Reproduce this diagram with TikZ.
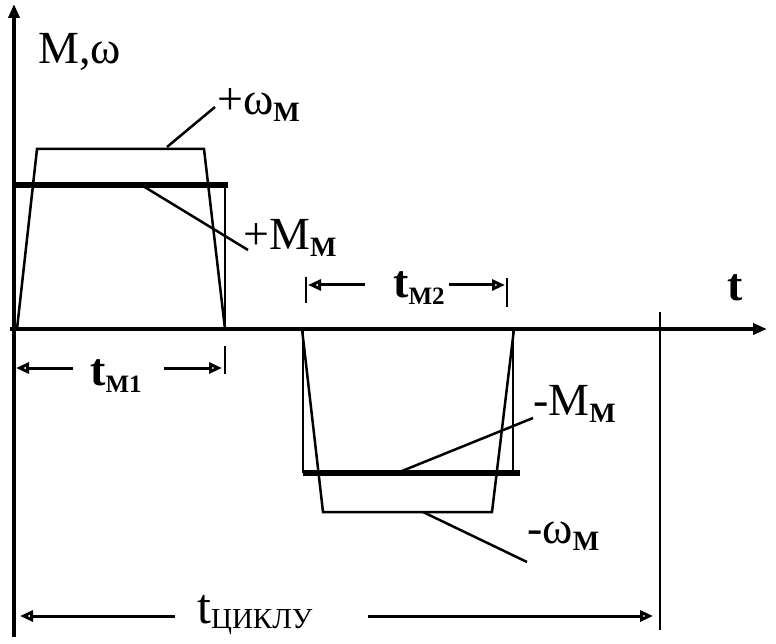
\documentclass[tikz,border=0pt]{standalone}
\usepackage{fontspec}
\setmainfont{Liberation Serif}
\usetikzlibrary{arrows.meta}
\tikzset{axis/.style={line width=3.5pt,-{Triangle[open,length=14pt,width=11pt]}},
 curve/.style={line width=2.5pt,line join=miter},
 moment/.style={line width=6pt},
 leader/.style={line width=2.5pt},
 dimarrow/.style={line width=3pt,-{Triangle[open,length=13pt,width=11pt]}},
 lbl/.style={anchor=base west,inner sep=0pt,font=\fontsize{46}{50}\selectfont},
 }
\newcommand{\subM}{\textbf{\fontsize{28}{30}\selectfont М}}

\begin{document}
\begin{tikzpicture}[x=1pt,y=-1pt]
        \useasboundingbox (0,0) rectangle (776,644);
        % axes
        \draw [axis] (14,637) -- (14,4);
        \draw [axis] (10,329) -- (767,329);
        \draw [line width=2.5pt] (660,312) -- (660,630);
        % labels
        \node [lbl] (yl) at (38,64) {M,ω};
        \node [lbl] (tl) at (727,300) {\textbf{t}};
        \node [lbl] (wp) at (217,115) {+ω\raisebox{-7pt}{\subM}};
        \node [lbl] (mp) at (243,250) {+M\raisebox{-7pt}{\subM}};
        \node [lbl] (mn) at (533,415) {-M\raisebox{-7pt}{\subM}};
        \node [lbl] (wn) at (527,543) {-ω\raisebox{-7pt}{\subM}};
        \node [lbl] (t1) at (90,385) {\textbf{t}\raisebox{-7pt}{\textbf{\fontsize{25}{30}\selectfont М1}}};
        \node [lbl] (t2) at (393,298) {\textbf{t}\raisebox{-7pt}{\textbf{\fontsize{25}{30}\selectfont М2}}};
        \node [lbl, font=\fontsize{50}{54}\selectfont] (tc) at (197,623) {t\raisebox{-5pt}{\fontsize{29}{32}\selectfont ЦИКЛУ}};
        % first interval
        \coordinate (a0) at (17,329);
        \coordinate (a1) at (37,149);
        \coordinate (a2) at (204,149);
        \coordinate (a3) at (225,329);
        \draw [curve] (a0) -- (a1) -- (a2) -- (a3);
        \draw [moment] (12,185) -- (228,185);
        \draw [curve] (225,185) -- (a3);
        \coordinate (wpa) at (167,147);
        \coordinate (wpb) at (215,107);
        \draw [leader] (wpa) -- (wpb);
        \coordinate (mpa) at (143,186);
        \coordinate (mpb) at (248,250);
        \draw [leader] (mpa) -- (mpb);
        % second interval
        \coordinate (b0) at (302,329);
        \coordinate (b1) at (323,512);
        \coordinate (b2) at (492,512);
        \coordinate (b3) at (514,329);
        \draw [curve] (b0) -- (b1) -- (b2) -- (b3);
        \draw [curve] (303,329) -- (303,473);
        \draw [curve] (513,329) -- (513,473);
        \draw [moment] (303,473) -- (520,473);
        \coordinate (mna) at (397,473);
        \coordinate (mnb) at (533,418);
        \draw [leader] (mna) -- (mnb);
        \coordinate (wna) at (423,512);
        \coordinate (wnb) at (527,562);
        \draw [leader] (wna) -- (wnb);
        % dimension lines
        \draw [line width=2.5pt] (225,346) -- (225,374);
        \draw [dimarrow] (73,368) -- (16,368);
        \draw [dimarrow] (164,368) -- (222,368);
        \draw [line width=2.5pt] (306,277) -- (306,303);
        \draw [line width=2.5pt] (507,278) -- (507,307);
        \draw [dimarrow] (365,285) -- (308,285);
        \draw [dimarrow] (449,285) -- (505,285);
        \draw [dimarrow] (175,616) -- (20,616);
        \draw [dimarrow] (368,616) -- (653,616);
    \end{tikzpicture}
\end{document}
